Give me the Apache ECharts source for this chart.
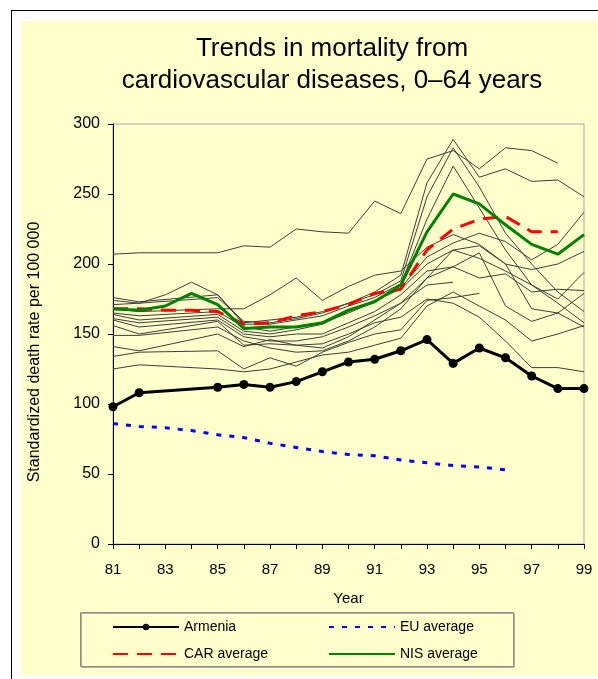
<!DOCTYPE html>
<html>
<head>
<meta charset="utf-8">
<script src="https://cdn.jsdelivr.net/npm/echarts@6/dist/echarts.min.js"></script>
<style>
  html, body { margin: 0; padding: 0; background: #ffffff; width: 598px; height: 679px; overflow: hidden; }
  #frame { position: absolute; left: 11px; top: 10px; width: 700px; height: 700px; border-left: 1px solid #000; border-top: 1px solid #000; }
  #bg { position: absolute; left: 21px; top: 21px; width: 600px; height: 654px; background: #FFFFCC; }
  #chart { position: absolute; left: 0; top: 0; width: 598px; height: 679px; }
</style>
</head>
<body>
<div id="frame"></div>
<div id="bg"></div>
<div id="chart"></div>
<script>
// ---- data ----
const years = ['81','82','83','84','85','86','87','88','89','90','91','92','93','94','95','96','97','98','99'];
const yTicks = [0, 50, 100, 150, 200, 250, 300];

const armenia    = [98, 108, null, null, 112, 114, 112, 116, 123, 130, 132, 138, 146, 129, 140, 133, 120, 111, 111];
const euAverage  = [86, 84, 83, 81, 78, 76, 72, 69, 66, 64, 63, 60, 58, 56, 55, 53, null, null, null];
const carAverage = [168, 168, 167, 167, 166, 157, 158, 163, 166, 171, 179, 182, 210, 225, 232, 234, 223, 223, null];
const nisAverage = [168, 167, 170, 179, 171, 154, 155, 155, 158, 167, 173, 185, 223, 250, 243, 228, 214, 207, 221];

// individual countries (thin grey lines)
const country01 = [207, 208, null, null, 208, 213, 212, 225, 223, 222, 245, 236, 275, 281, 268, 283, 281, 272, null];
const country02 = [176, 173, null, null, 178, 158, 160, 162, 166, 172, 180, 192, 258, 289, 262, 268, 259, 260, 248];
const country03 = [174, 172, null, null, 176, 159, 158, 161, 165, 172, 178, 188, 248, 283, 255, 222, 200, 180, 166];
const country04 = [171, 172, 178, 187, 178, 157, 157, 160, 163, 170, 176, 186, 232, 270, 240, 210, 185, 172, 158];
const country05 = [168, 166, null, null, 168, 168, 178, 190, 174, 184, 192, 195, 212, 221, 214, 200, 196, 200, 209];
const country06 = [165, 163, null, null, 166, 155, 152, 155, 158, 165, 173, 183, 205, 215, 222, 216, 203, 214, 237];
const country07 = [164, 160, null, null, 164, 152, 150, 153, 157, 166, 174, 182, 200, 210, 204, 195, 185, 175, 194];
const country08 = [161, 158, null, null, 162, 150, 148, 150, 150, 158, 166, 178, 195, 198, 190, 193, 180, 182, 181];
const country09 = [160, 155, null, null, 160, 148, 145, 145, 148, 155, 163, 172, 190, 210, 213, 200, 168, 165, 179];
const country10 = [156, 150, null, null, 159, 142, 143, 142, 140, 148, 160, 172, 185, 187, null, null, null, null, null];
const country11 = [149, 149, null, null, 155, 145, 140, 137, 138, 145, 155, 168, 190, 198, 208, 170, 159, 165, 155];
const country12 = [141, 138, null, null, 150, 141, 146, 142, 143, 150, 158, 162, 175, 172, 162, 145, 126, 126, 123];
const country13 = [134, 137, null, null, 138, 125, 133, 127, 137, 144, 150, 153, 174, 176, 179, null, null, null, null];
const country14 = [125, 128, null, null, 125, 123, 125, 130, 135, 137, 142, 147, 170, 180, 170, 160, 145, 150, 156];
const countries = [country01, country02, country03, country04, country05, country06, country07,
                   country08, country09, country10, country11, country12, country13, country14];

// ---- chart ----
const chart = echarts.init(document.getElementById('chart'), null, { renderer: 'canvas' });
const FONT = 'Liberation Sans, Arial, sans-serif';

const greySeries = countries.map((d, i) => ({
  name: 'country' + (i + 1),
  type: 'line',
  data: d,
  connectNulls: true,
  symbol: 'none',
  silent: true,
  z: 1,
  lineStyle: { color: '#3c3c3c', width: 1 }
}));

const legendCommon = {
  orient: 'vertical', top: 620, padding: 0,
  itemWidth: 66, itemHeight: 8, itemGap: 13,
  textStyle: { fontSize: 14, color: '#000', fontFamily: FONT },
  selectedMode: false
};

const option = {
  backgroundColor: 'transparent',
  animation: false,
  textStyle: { fontFamily: FONT },
  title: {
    text: 'Trends in mortality from\ncardiovascular diseases, 0–64 years',
    left: 332,
    top: 33,
    padding: 0,
    textAlign: 'center',
    textStyle: { fontSize: 26, fontWeight: 'normal', color: '#000', fontFamily: FONT, lineHeight: 32 }
  },
  grid: {
    left: 113, top: 124, right: 14, bottom: 135,
    show: true, borderColor: '#a8a8a8', borderWidth: 1, backgroundColor: 'transparent'
  },
  legend: [
    Object.assign({}, legendCommon, {
      left: 112,
      data: [
        { name: 'Armenia', lineStyle: { width: 2 } },
        { name: 'CAR average', itemStyle: { opacity: 0 } }
      ]
    }),
    Object.assign({}, legendCommon, {
      left: 328,
      data: [
        { name: 'EU average', itemStyle: { opacity: 0 } },
        { name: 'NIS average', itemStyle: { opacity: 0 } }
      ]
    })
  ],
  graphic: [
    {
      type: 'rect', left: 80, top: 612, z: -1,
      shape: { width: 433, height: 54 },
      style: { fill: 'transparent', stroke: '#8c8c8c', lineWidth: 1, shadowColor: '#b0b0a0', shadowOffsetX: 1, shadowOffsetY: 1 }
    }
  ],
  xAxis: {
    type: 'category',
    data: years,
    boundaryGap: false,
    name: 'Year',
    nameLocation: 'middle',
    nameGap: 47,
    nameTextStyle: { fontSize: 15, color: '#000', fontFamily: FONT },
    axisLine: { lineStyle: { color: '#000', width: 1 } },
    axisTick: { show: true, interval: 0, length: 5, lineStyle: { color: '#000' } },
    axisLabel: { interval: 1, fontSize: 15, color: '#000', margin: 18, fontFamily: FONT },
    splitLine: { show: false }
  },
  yAxis: {
    type: 'value',
    min: yTicks[0],
    max: yTicks[yTicks.length - 1],
    interval: 50,
    name: 'Standardized death rate per 100 000',
    nameLocation: 'middle',
    nameGap: 70,
    nameRotate: 90,
    nameTextStyle: { fontSize: 16, color: '#000', fontFamily: FONT, padding: [0, 0, 0, -36] },
    axisLine: { show: true, lineStyle: { color: '#000', width: 1 } },
    axisTick: { show: true, length: 5, lineStyle: { color: '#000' } },
    axisLabel: { fontSize: 16, color: '#000', margin: 13, fontFamily: FONT },
    splitLine: { show: false }
  },
  series: greySeries.concat([
    {
      name: 'EU average', type: 'line', data: euAverage, symbol: 'none', z: 5,
      itemStyle: { color: '#0000ff' },
      lineStyle: { color: '#0000ff', width: 3, type: [5, 8] }
    },
    {
      name: 'CAR average', type: 'line', data: carAverage, symbol: 'none', z: 6,
      itemStyle: { color: '#ff0000' },
      lineStyle: { color: '#ff0000', width: 3, type: [15, 9] }
    },
    {
      name: 'NIS average', type: 'line', data: nisAverage, symbol: 'none', z: 6,
      itemStyle: { color: '#008000' },
      lineStyle: { color: '#008000', width: 3 }
    },
    {
      name: 'Armenia', type: 'line', data: armenia, connectNulls: true,
      symbol: 'circle', symbolSize: 9, showAllSymbol: true, z: 7,
      itemStyle: { color: '#000' },
      lineStyle: { color: '#000', width: 3 }
    }
  ])
};
chart.setOption(option);
</script>
</body>
</html>
